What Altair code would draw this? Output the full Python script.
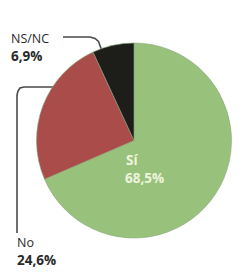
import altair as alt
import pandas as pd

# --- data ---
categories = ["Sí", "No", "NS/NC"]
values = [68.5, 24.6, 6.9]
value_labels = ["68,5%", "24,6%", "6,9%"]
colors = ["#98c27c", "#a94c4a", "#1d1d19"]

pie_df = pd.DataFrame({"cat": categories, "value": values, "idx": [0, 1, 2]})

W, H = 232, 260
CX, CY, R = 126, 132.5, 97.5

pix_x = alt.Scale(domain=[0, W], range=[0, W], nice=False, zero=False)
pix_y = alt.Scale(domain=[0, H], range=[0, H], nice=False, zero=False)

# leader lines (annotation geometry)
lines_df = pd.DataFrame({
    "line": ["nsnc"] * 5 + ["no"] * 7,
    "k": list(range(5)) + list(range(7)),
    "px": [55, 82, 87, 90.5, 94,
           48, 44, 16, 12, 10, 9, 9],
    "py": [29, 29, 30.5, 33.5, 43,
           79, 79, 79, 80, 83, 87, 225],
})

lines = alt.Chart(lines_df).mark_line(color="#4a4a4a", strokeWidth=1.6, interpolate="linear").encode(
    x=alt.X("px:Q", scale=pix_x, axis=None),
    y=alt.Y("py:Q", scale=pix_y, axis=None),
    detail="line:N",
    order="k:Q",
)

pie = alt.Chart(pie_df).mark_arc(outerRadius=R, stroke="#8aa77a", strokeWidth=0.6).encode(
    theta=alt.Theta("value:Q", stack=True),
    color=alt.Color("cat:N", scale=alt.Scale(domain=categories, range=colors), legend=None),
    order=alt.Order("idx:Q"),
    x=alt.value(CX),
    y=alt.value(CY),
)

outer_df = pd.DataFrame({
    "t": ["NS/NC", value_labels[2], "No", value_labels[1]],
    "px": [3, 3, 9, 9],
    "py": [35, 53, 239, 257],
    "w": ["normal", "bold", "normal", "bold"],
})

outer_norm = alt.Chart(outer_df[outer_df.w == "normal"]).mark_text(
    align="left", baseline="alphabetic", font="Open Sans", fontSize=12.5, color="#2a2a2a"
).encode(x=alt.X("px:Q", scale=pix_x, axis=None), y=alt.Y("py:Q", scale=pix_y, axis=None), text="t:N")

outer_bold = alt.Chart(outer_df[outer_df.w == "bold"]).mark_text(
    align="left", baseline="alphabetic", font="Open Sans", fontSize=13.5, fontWeight="bold", color="#2a2a2a"
).encode(x=alt.X("px:Q", scale=pix_x, axis=None), y=alt.Y("py:Q", scale=pix_y, axis=None), text="t:N")

inner_df = pd.DataFrame({"t": ["Sí", value_labels[0]], "px": [118, 117], "py": [157, 175]})
inner = alt.Chart(inner_df).mark_text(
    align="left", baseline="alphabetic", font="Open Sans", fontSize=13.5, fontWeight="bold", color="#eef4dc"
).encode(x=alt.X("px:Q", scale=pix_x, axis=None), y=alt.Y("py:Q", scale=pix_y, axis=None), text="t:N")

chart = alt.layer(lines, pie, outer_norm, outer_bold, inner).properties(
    width=W, height=H, padding=0, autosize=alt.AutoSizeParams(type="none"),
    background="white",
).configure_view(stroke=None)

chart.save("out.html", embed_options={"renderer": "svg", "actions": False})
